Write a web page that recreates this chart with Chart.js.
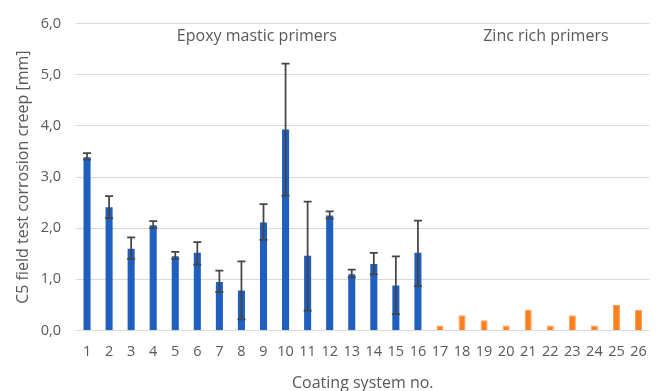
<!DOCTYPE html>
<html>
<head>
<meta charset="utf-8">
<script src="https://cdn.jsdelivr.net/npm/chart.js@4/dist/chart.umd.min.js"></script>
<style>
  html, body { margin: 0; padding: 0; background: #fff; overflow: hidden; }
  #wrap { width: 660px; height: 391px; }
</style>
</head>
<body>
<div id="wrap"><canvas id="creep_chart" width="660" height="391"></canvas></div>
<script>

var systems = ['1','2','3','4','5','6','7','8','9','10','11','12','13',
               '14','15','16','17','18','19','20','21','22','23','24','25','26'];

// mean creep, epoxy mastic primers (1-16)
var epoxy_creep = [3.39, 2.41, 1.60, 2.06, 1.45, 1.52, 0.95, 0.78, 2.11, 3.93, 1.46, 2.25, 1.10,
                   1.30, 0.88, 1.52, null, null, null, null, null, null, null, null, null, null];
// mean creep, zinc rich primers (17-26)
var zinc_creep = [null, null, null, null, null, null, null, null, null, null, null, null, null,
                  null, null, null, 0.1, 0.3, 0.2, 0.1, 0.4, 0.1, 0.3, 0.1, 0.5, 0.4];

// error bar ends (min / max)
var err_low = [3.34, 2.20, 1.40, 2.00, 1.40, 1.29, 0.75, 0.22, 1.77, 2.64, 0.39, 2.19, 1.04,
               1.10, 0.32, 0.87, null, null, null, null, null, null, null, null, null, null];
var err_high = [3.47, 2.63, 1.82, 2.14, 1.54, 1.73, 1.17, 1.35, 2.47, 5.22, 2.52, 2.33, 1.19,
                1.52, 1.45, 2.15, null, null, null, null, null, null, null, null, null, null];

var y_ticks = [0, 1, 2, 3, 4, 5, 6];

var group_labels = [
    {text: 'Epoxy mastic primers', x: 7.7, y: 5.75},
    {text: 'Zinc rich primers', x: 20.8, y: 5.75}
];

var text_grey = '#595959';
var font_family = '"Open Sans", "Liberation Sans", sans-serif';

// draws the min/max whiskers on top of the blue bars
const errorBars = {
    id: 'errorBars',
    afterDatasetsDraw(chart) {
        const ctx = chart.ctx;
        const xs = chart.scales.x, ys = chart.scales.y;
        ctx.save();
        ctx.strokeStyle = '#454545';
        ctx.lineWidth = 1.75;
        for (let i = 0; i < err_low.length; i++) {
            if (err_low[i] == null) continue;
            const x = xs.getPixelForValue(i);
            const y1 = ys.getPixelForValue(err_low[i]);
            const y2 = ys.getPixelForValue(err_high[i]);
            ctx.beginPath();
            ctx.moveTo(x, y1); ctx.lineTo(x, y2);
            ctx.moveTo(x - 4, y1); ctx.lineTo(x + 4, y1);
            ctx.moveTo(x - 4, y2); ctx.lineTo(x + 4, y2);
            ctx.stroke();
        }
        ctx.restore();
    }
};

const groupText = {
    id: 'groupText',
    afterDraw(chart) {
        const ctx = chart.ctx;
        const xs = chart.scales.x, ys = chart.scales.y;
        ctx.save();
        ctx.fillStyle = text_grey;
        ctx.font = '16px ' + font_family;
        ctx.textAlign = 'center';
        ctx.textBaseline = 'middle';
        group_labels.forEach(g => {
            ctx.fillText(g.text, xs.getPixelForValue(g.x), ys.getPixelForValue(g.y));
        });
        ctx.restore();
    }
};

const data = {
    labels: systems,
    datasets: [{
        label: 'Epoxy mastic primers',
        data: epoxy_creep,
        backgroundColor: '#1f5fbf',
        borderWidth: 0,
        grouped: false,
    },
    {
        label: 'Zinc rich primers',
        data: zinc_creep,
        backgroundColor: '#ff7f1e',
        borderColor: '#ffa060',
        borderWidth: 1,
        grouped: false,
    }]
};

const config = {
    type: 'bar',
    data: data,
    plugins: [errorBars, groupText],
    options: {
        responsive: false,
        animation: false,
        layout: {padding: {top: 18, right: 10, left: 0, bottom: 0}},
        datasets: {bar: {categoryPercentage: 1.0, barPercentage: 0.32}},
        scales: {
            x: {
                grid: {display: false, drawTicks: false},
                border: {display: false},
                ticks: {color: text_grey, font: {family: font_family, size: 14.5}, padding: 13, maxRotation: 0, autoSkip: false},
                title: {
                    display: true,
                    text: 'Coating system no.',
                    color: text_grey,
                    font: {family: font_family, size: 16},
                    padding: {top: 0, bottom: -2}
                },
                afterFit(scale) { scale.height = 60.5; }
            },
            y: {
                min: 0,
                max: 6,
                afterBuildTicks(scale) { scale.ticks = y_ticks.map(v => ({value: v})); },
                grid: {color: '#d9d9d9', lineWidth: 1, drawTicks: false},
                border: {display: false},
                ticks: {
                    color: text_grey,
                    font: {family: font_family, size: 14.5},
                    padding: 15,
                    callback: v => v.toFixed(1).replace('.', ',')
                },
                title: {
                    display: true,
                    text: 'C5 field test corrosion creep [mm]',
                    color: text_grey,
                    font: {family: font_family, size: 16},
                    padding: {top: 14, bottom: 0}
                },
                afterFit(scale) { scale.width = 76; }
            }
        },
        plugins: {
            legend: {display: false},
            tooltip: {enabled: false}
        }
    }
};

const myChart = new Chart(document.getElementById('creep_chart'), config);
</script>
</body>
</html>
